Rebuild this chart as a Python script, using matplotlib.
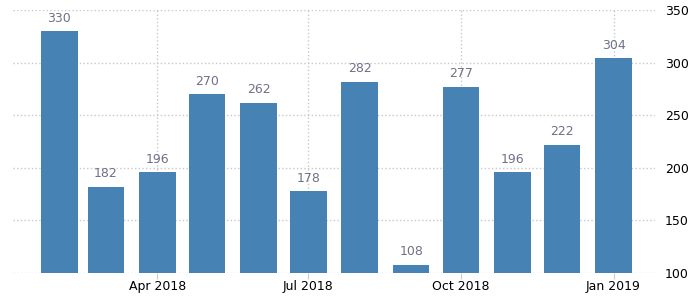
import matplotlib.pyplot as plt
import datetime as dt

months = ['2018-02', '2018-03', '2018-04', '2018-05', '2018-06', '2018-07',
          '2018-08', '2018-09', '2018-10', '2018-11', '2018-12', '2019-01']
values = [330, 182, 196, 270, 262, 178, 282, 108, 277, 196, 222, 304]
tick_months = ['2018-04', '2018-07', '2018-10', '2019-01']
tick_labels = ['Apr 2018', 'Jul 2018', 'Oct 2018', 'Jan 2019']
y_ticks = [100, 150, 200, 250, 300, 350]

dates = [dt.datetime.strptime(m, '%Y-%m') for m in months]
tick_dates = [dt.datetime.strptime(m, '%Y-%m') for m in tick_months]

fig = plt.figure(figsize=(7, 3.01), dpi=100)
ax = fig.add_axes([13 / 700, (301 - 273) / 301, (655 - 13) / 700, (273 - 10) / 301])

# bars are 22 days wide, centered on the first of each month
ax.bar(dates, [v - 100 for v in values], bottom=100, width=22, color='#4682B4', zorder=2)
for d, v in zip(dates, values):
    ax.text(d, v + 6, str(v), ha='center', va='bottom', fontsize=9, color='#707088')

ax.set_xlim(dt.datetime(2018, 1, 4), dt.datetime(2019, 1, 26))
ax.set_ylim(100, 350)
ax.set_xticks(tick_dates)
ax.set_xticklabels(tick_labels, fontsize=9)
ax.set_yticks(y_ticks)
ax.yaxis.tick_right()
ax.tick_params(axis='y', length=0, labelsize=9, pad=7)
ax.tick_params(axis='x', length=4, color='#cccccc', pad=1)
ax.grid(True, linestyle=':', color='#c8c8c8', linewidth=1, zorder=0)
for s in ax.spines.values():
    s.set_visible(False)

fig.savefig('out.png', dpi=100)
